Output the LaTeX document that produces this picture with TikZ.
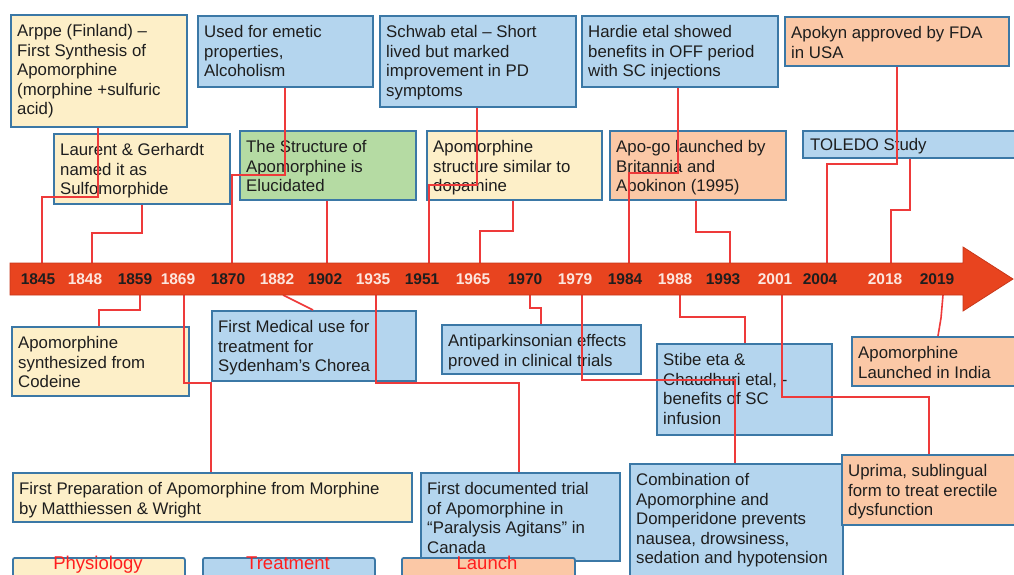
\documentclass[tikz,border=0pt]{standalone}
\usepackage{fontspec}
\setmainfont{Liberation Sans}
\definecolor{yel}{HTML}{FDEFC8}
\definecolor{blu}{HTML}{B4D5EE}
\definecolor{grn}{HTML}{B5DBA3}
\definecolor{org}{HTML}{FBC8A6}
\definecolor{bord}{HTML}{3B78A6}
\definecolor{lnk}{HTML}{EE3A3A}
\definecolor{arr}{HTML}{E8441F}
\definecolor{arrd}{HTML}{C8381A}
\definecolor{ink}{HTML}{1E1E1E}
\definecolor{leg}{HTML}{FF1E1E}
\definecolor{yrw}{HTML}{FCE6DE}
\tikzset{
 box/.style={draw=bord, line width=1.8pt, inner sep=0pt, anchor=north west},
 txt/.style={inner sep=0pt, anchor=north west, align=left, text=ink, font=\fontsize{16.8}{19.6}\selectfont},
 conn/.style={draw=lnk, line width=1.6pt},
 yrb/.style={font=\bfseries\fontsize{15.5}{18}\selectfont, text=ink, inner sep=0pt},
 yrl/.style={font=\bfseries\fontsize{15.5}{18}\selectfont, text=yrw, inner sep=0pt},
 legbox/.style={draw=bord, line width=1.8pt, rounded corners=2pt, anchor=north west, inner sep=0pt},
 legtxt/.style={text=leg, inner sep=0pt, anchor=base, font=\fontsize{18.5}{22}\selectfont},
}
\newcommand{\mybox}[7]{%
 \node[box, fill=#2, minimum width=#5pt, minimum height=#6pt] (#1) at (#3,#4) {};
 \node[txt] (#1-t) at ([xshift=7pt,yshift=-8.5pt]#1.north west) {\strut #7};
}
\begin{document}
\begin{tikzpicture}[x=1pt,y=-1pt]
\useasboundingbox (0,0) rectangle (1014,574);
\fill[white] (0,0) rectangle (1014,574);
\clip (0,0) rectangle (1014,574);

% top row
\mybox{arppe}{yel}{10}{14}{176}{112}{Arppe (Finland) –\\First Synthesis of\\Apomorphine\\(morphine +sulfuric\\acid)}
\mybox{emetic}{blu}{197}{15}{175}{71}{Used for emetic\\properties,\\Alcoholism}
\mybox{schwab}{blu}{379}{15}{196}{91}{Schwab etal – Short\\lived but marked\\improvement in PD\\symptoms}
\mybox{hardie}{blu}{581}{15}{196}{71}{Hardie etal showed\\benefits in OFF period\\with SC injections}
\mybox{apokyn}{org}{784}{16}{224}{49}{Apokyn approved by FDA\\in USA}
% second row
\mybox{laurent}{yel}{53}{133}{176}{70}{Laurent \& Gerhardt\\named it as\\Sulfomorphide}
\mybox{struct}{grn}{239}{130}{176}{69}{The Structure of\\Apomorphine is\\Elucidated}
\mybox{dopa}{yel}{426}{130}{175}{69}{Apomorphine\\structure similar to\\dopamine}
\mybox{apogo}{org}{609}{130}{176}{69}{Apo-go launched by\\Britannia and\\Apokinon (1995)}
\node[box, fill=blu, minimum width=212pt, minimum height=27pt] (toledo) at (802,130) {};
\node[txt] (toledo-t) at ([xshift=8pt,yshift=-6.5pt]toledo.north west) {\strut TOLEDO Study};
% bottom
\mybox{codeine}{yel}{11}{326}{177}{69}{Apomorphine\\synthesized from\\Codeine}
\mybox{medical}{blu}{211}{310}{204}{70}{First Medical use for\\treatment for\\Sydenham's Chorea}
\mybox{prep}{yel}{12}{472}{399}{49}{First Preparation of Apomorphine from Morphine\\by Matthiessen \& Wright}
\mybox{antip}{blu}{441}{324}{199}{49}{Antiparkinsonian effects\\proved in clinical trials}
\mybox{stibe}{blu}{656}{343}{175}{91}{Stibe eta \&\\Chaudhuri etal, -\\benefits of SC\\infusion}
\mybox{india}{org}{851}{336}{163}{49}{Apomorphine\\Launched in India}
\mybox{trial}{blu}{420}{472}{199}{88}{First documented trial\\of Apomorphine in\\“Paralysis Agitans” in\\Canada}
\mybox{combo}{blu}{629}{463}{213}{137}{Combination of\\Apomorphine and\\Domperidone prevents\\nausea, drowsiness,\\sedation and hypotension}
\mybox{uprima}{org}{841}{454}{173}{70}{Uprima, sublingual\\form to treat erectile\\dysfunction}

% timeline anchor points
\foreach \n/\x in {1845/42,1848/92,1870/232,1902/327,1951/429,1965/480,1984/629,1993/730,2004/827,2018/891}
  \coordinate (t\n) at (\x,263);
\foreach \n/\x in {1859/140,1869/184,1882/283,1935/376,1970/530,1979/582,1988/680,2001/782,2019/943}
  \coordinate (b\n) at (\x,295);

% connectors up
\draw[conn] (t1845) |- (98,197) -- (98,0 |- arppe.south);
\draw[conn] (t1848) |- (142,233) -- (142,0 |- laurent.south);
\draw[conn] (t1870) |- (285,175) -- (285,0 |- emetic.south);
\draw[conn] (t1902) -- (327,0 |- struct.south);
\draw[conn] (t1951) |- (477,185) -- (477,0 |- schwab.south);
\draw[conn] (t1965) |- (513,231) -- (513,0 |- dopa.south);
\draw[conn] (t1984) |- (678,173) -- (678,0 |- hardie.south);
\draw[conn] (t1993) |- (696,232) -- (696,0 |- apogo.south);
\draw[conn] (t2004) |- (897,164) -- (897,0 |- apokyn.south);
\draw[conn] (t2018) |- (910,210) -- (910,0 |- toledo.south);
% connectors down
\draw[conn] (b1859) |- (99,310) -- (99,0 |- codeine.north);
\draw[conn] (b1869) |- (211,383) -- (211,0 |- prep.north);
\draw[conn] (b1882) -- (313,0 |- medical.north);
\draw[conn] (b1935) |- (519,383) -- (519,0 |- trial.north);
\draw[conn] (b1970) |- (541,308) -- (541,0 |- antip.north);
\draw[conn] (b1979) |- (735,380) -- (735,0 |- combo.north);
\draw[conn] (b1988) |- (745,317) -- (745,0 |- stibe.north);
\draw[conn] (b2001) |- (929,397) -- (929,0 |- uprima.north);
\draw[conn] (b2019) -- (941,318) -- (938,0 |- india.north);

% arrow
\filldraw[fill=arr, draw=arrd, line width=0.8pt] (10,263) -- (963,263) -- (963,247) -- (1013,279) -- (963,311) -- (963,295) -- (10,295) -- cycle;
\foreach \n/\x in {1845/38,1859/135,1870/228,1902/325,1951/422,1970/525,1984/625,1993/723,2004/820,2019/937}
  \node[yrb] (y\n) at (\x,279) {\n};
\foreach \n/\x in {1848/85,1869/178,1882/277,1935/373,1965/473,1979/575,1988/675,2001/775,2018/885}
  \node[yrl] (y\n) at (\x,279) {\n};

% legend
\node[legbox, fill=yel, minimum width=172pt, minimum height=30pt] (lphys) at (12,557) {};
\node[legtxt] (lphys-t) at (98,569.5) {Physiology};
\node[legbox, fill=blu, minimum width=172pt, minimum height=30pt] (ltreat) at (202,557) {};
\node[legtxt] (ltreat-t) at (288,569.5) {Treatment};
\node[legbox, fill=org, minimum width=173pt, minimum height=30pt] (llaunch) at (401,557) {};
\node[legtxt] (llaunch-t) at (487,569.5) {Launch};
\end{tikzpicture}
\end{document}
